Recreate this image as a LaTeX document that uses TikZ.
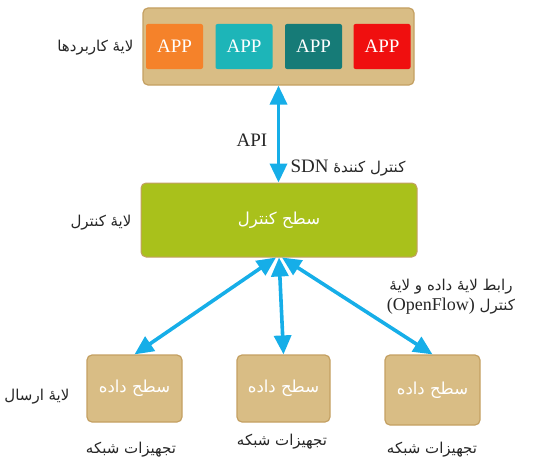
\documentclass[tikz,border=0pt]{standalone}
\usepackage{fontspec}
\setmainfont{Liberation Serif}
\newfontfamily\arabicfont[Script=Arabic]{DejaVu Sans}
\TeXXeTstate=1
\usetikzlibrary{arrows.meta}
\definecolor{tanfill}{HTML}{D9BD85}
\definecolor{tanedge}{HTML}{C4A062}
\definecolor{ctrlgreen}{HTML}{A9C11B}
\definecolor{linkblue}{HTML}{16AEE8}
\definecolor{apporange}{HTML}{F5822A}
\definecolor{appteal}{HTML}{1DB5B8}
\definecolor{appdark}{HTML}{167B77}
\definecolor{appred}{HTML}{F00F0F}
% heh with hamza above
\newcommand{\lyr}{لایه\char"0654}
\tikzset{
  layerbox/.style={draw=tanedge, line width=1.2pt, fill=tanfill, rounded corners=5pt},
  appbox/.style={rounded corners=2pt, minimum width=57pt, minimum height=45pt,
    text=white, font=\fontsize{19}{22}\selectfont},
  devbox/.style={layerbox, minimum width=95pt, minimum height=67pt,
    text=white, font=\arabicfont\fontsize{16.5}{20}\selectfont},
  label/.style={font=\arabicfont\fontsize{15}{19}\selectfont, text=black!85},
  link/.style={draw=linkblue, line width=3.6pt,
    {Triangle[length=19pt,width=17pt]}-{Triangle[length=19pt,width=17pt]}},
}
\begin{document}
\begin{tikzpicture}[x=1pt,y=-1pt]
\useasboundingbox (0,0) rectangle (553,460);

% application layer
\node[layerbox, minimum width=271pt, minimum height=77pt] (apps) at (278.5,46.5) {};
\node[appbox, fill=apporange] (a1) at (174.5,46.5) {APP};
\node[appbox, fill=appteal]   (a2) at (244,46.5) {APP};
\node[appbox, fill=appdark]   (a3) at (313.5,46.5) {APP};
\node[appbox, fill=appred]    (a4) at (382,46.5) {APP};
\node[label, anchor=east] (lapps) at (137,48) {\beginR\lyr{} کاربردها\endR};

% control layer
\node[draw=tanedge, line width=1pt, fill=ctrlgreen, rounded corners=5pt,
  minimum width=276pt, minimum height=74pt, text=white,
  font=\arabicfont\fontsize{16.5}{20}\selectfont] (ctrl) at (279,220) {\beginR سطح کنترل\endR};
\node[label, anchor=east] (lctrl) at (135,223) {\beginR\lyr{} کنترل\endR};

% northbound interface
\draw[link] (apps.south) -- (apps.south |- ctrl.north);
\node[font=\fontsize{19}{22}\selectfont, text=black!85] (api) at (252,140) {API};
\node[label, anchor=west] (sdn) at (287,168) {\beginR کنترل کننده\char"0654{} \beginL{\rmfamily\fontsize{19}{22}\selectfont SDN}\endL\endR};

% forwarding layer
\node[devbox] (d1) at (134.5,388.5) {\beginR سطح داده\endR};
\node[devbox, minimum width=93pt] (d2) at (283.5,388.5) {\beginR سطح داده\endR};
\node[devbox, minimum height=70pt] (d3) at (432.5,390) {\beginR سطح داده\endR};
\node[label, anchor=east] (lfwd) at (73,397) {\beginR\lyr{} ارسال\endR};
\node[label] (n1) at (131,450) {\beginR تجهیزات شبکه\endR};
\node[label] (n2) at (282,442) {\beginR تجهیزات شبکه\endR};
\node[label] (n3) at (432,450) {\beginR تجهیزات شبکه\endR};

% southbound interface
\coordinate (hub) at (ctrl.south);
\draw[link] ([xshift=-3pt]hub) -- (d1.north);
\draw[link] (hub) -- (d2.north);
\draw[link] ([xshift=3pt]hub) -- (d3.north);
\node[label, align=center] (ofl) at (451,297)
  {\beginR رابط \lyr{} داده و \lyr\endR\\[1pt]
   \beginR کنترل \beginL{\rmfamily\fontsize{18}{20}\selectfont(OpenFlow)}\endL\endR};
\end{tikzpicture}
\end{document}
